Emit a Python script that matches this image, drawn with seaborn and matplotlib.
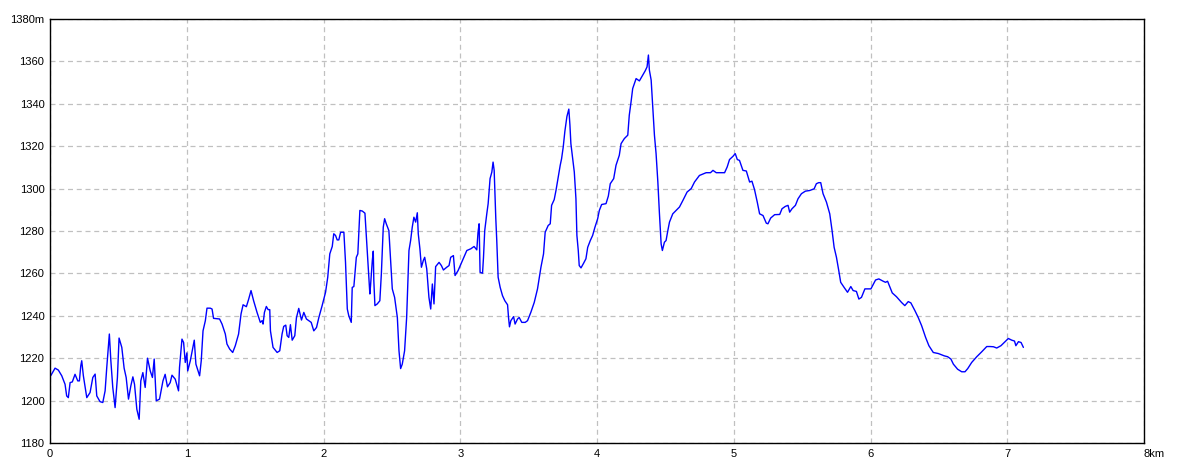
import matplotlib
matplotlib.use("Agg")
import matplotlib.pyplot as plt
import seaborn as sns
import pandas as pd

distance_km = [
    0.005, 0.037, 0.061, 0.086, 0.110, 0.122, 0.134, 0.147, 0.163, 0.183, 0.203, 0.215, 0.225, 0.232, 0.244,
    0.269, 0.293, 0.313, 0.330, 0.342, 0.366, 0.386, 0.403, 0.415, 0.434, 0.445, 0.459, 0.476, 0.493, 0.505,
    0.525, 0.542, 0.557, 0.574, 0.591, 0.606, 0.618, 0.635, 0.652, 0.664, 0.679, 0.696, 0.713, 0.733, 0.749,
    0.762, 0.777, 0.801, 0.826, 0.842, 0.859, 0.879, 0.892, 0.916, 0.940, 0.947, 0.965, 0.977, 0.989, 1.001,
    1.007, 1.026, 1.055, 1.067, 1.094, 1.106, 1.119, 1.136, 1.148, 1.172, 1.185, 1.196, 1.240, 1.258, 1.282,
    1.294, 1.314, 1.336, 1.355, 1.379, 1.397, 1.412, 1.436, 1.453, 1.470, 1.489, 1.514, 1.538, 1.551, 1.558,
    1.568, 1.582, 1.595, 1.607, 1.612, 1.631, 1.661, 1.680, 1.697, 1.709, 1.724, 1.734, 1.746, 1.758, 1.771,
    1.790, 1.802, 1.819, 1.839, 1.856, 1.875, 1.892, 1.910, 1.929, 1.949, 1.966, 1.990, 2.015, 2.031, 2.046,
    2.064, 2.075, 2.088, 2.100, 2.112, 2.125, 2.149, 2.161, 2.174, 2.185, 2.203, 2.210, 2.222, 2.240, 2.251,
    2.266, 2.284, 2.303, 2.320, 2.339, 2.344, 2.357, 2.364, 2.368, 2.376, 2.393, 2.412, 2.423, 2.437, 2.447,
    2.459, 2.478, 2.491, 2.503, 2.520, 2.540, 2.552, 2.564, 2.576, 2.593, 2.608, 2.625, 2.637, 2.649, 2.661,
    2.674, 2.686, 2.693, 2.705, 2.716, 2.730, 2.740, 2.755, 2.771, 2.784, 2.796, 2.808, 2.820, 2.845, 2.862,
    2.877, 2.901, 2.918, 2.930, 2.950, 2.962, 2.984, 3.016, 3.048, 3.077, 3.101, 3.121, 3.130, 3.138, 3.145,
    3.163, 3.170, 3.179, 3.194, 3.204, 3.211, 3.218, 3.231, 3.240, 3.248, 3.260, 3.267, 3.277, 3.292, 3.309,
    3.326, 3.346, 3.353, 3.360, 3.370, 3.390, 3.401, 3.419, 3.431, 3.450, 3.475, 3.492, 3.516, 3.541, 3.565,
    3.590, 3.609, 3.621, 3.643, 3.658, 3.668, 3.687, 3.700, 3.716, 3.731, 3.741, 3.753, 3.765, 3.780, 3.794,
    3.802, 3.809, 3.834, 3.846, 3.853, 3.863, 3.870, 3.883, 3.902, 3.919, 3.932, 3.951, 3.968, 3.985, 4.005,
    4.017, 4.034, 4.066, 4.083, 4.097, 4.122, 4.139, 4.163, 4.176, 4.200, 4.225, 4.236, 4.249, 4.261, 4.286,
    4.310, 4.334, 4.352, 4.366, 4.376, 4.383, 4.396, 4.408, 4.420, 4.432, 4.445, 4.456, 4.469, 4.478, 4.493,
    4.505, 4.518, 4.530, 4.554, 4.579, 4.603, 4.628, 4.659, 4.689, 4.713, 4.749, 4.798, 4.830, 4.848, 4.872,
    4.933, 4.952, 4.969, 4.994, 5.011, 5.026, 5.042, 5.067, 5.092, 5.116, 5.133, 5.152, 5.172, 5.189, 5.214,
    5.238, 5.250, 5.270, 5.299, 5.336, 5.353, 5.377, 5.397, 5.409, 5.426, 5.451, 5.470, 5.495, 5.524, 5.555,
    5.588, 5.604, 5.621, 5.636, 5.653, 5.678, 5.702, 5.719, 5.734, 5.751, 5.768, 5.782, 5.807, 5.832, 5.856,
    5.873, 5.897, 5.915, 5.934, 5.959, 6.003, 6.037, 6.061, 6.093, 6.110, 6.125, 6.159, 6.190, 6.227, 6.251,
    6.276, 6.295, 6.325, 6.349, 6.374, 6.403, 6.427, 6.459, 6.496, 6.540, 6.564, 6.588, 6.606, 6.637, 6.667,
    6.691, 6.711, 6.740, 6.777, 6.813, 6.850, 6.874, 6.899, 6.923, 6.954, 6.984, 7.008, 7.033, 7.053, 7.063,
    7.082, 7.101, 7.118,
]

elevation_m = [
    1211.7, 1215.3, 1214.4, 1211.7, 1207.7, 1202.2, 1201.4, 1208.5, 1208.8, 1212.4, 1209.3, 1209.3, 1216.4, 1218.8, 1211.7,
    1201.4, 1203.8, 1210.9, 1212.5, 1202.2, 1199.5, 1199.1, 1204.6, 1215.6, 1231.4, 1218.8, 1206.2, 1196.7, 1210.9, 1229.5,
    1225.1, 1215.3, 1210.9, 1200.7, 1206.9, 1211.2, 1207.7, 1195.9, 1191.2, 1209.3, 1213.2, 1206.2, 1220.0, 1214.0, 1210.9,
    1219.6, 1199.9, 1200.7, 1209.3, 1212.4, 1206.5, 1208.5, 1212.0, 1210.1, 1204.6, 1215.6, 1229.0, 1227.4, 1218.0, 1222.5,
    1214.0, 1218.8, 1228.5, 1217.2, 1211.7, 1218.8, 1232.9, 1237.7, 1243.6, 1243.6, 1243.2, 1238.8, 1238.5, 1236.1, 1231.4,
    1226.7, 1224.3, 1222.7, 1225.9, 1231.4, 1240.9, 1245.2, 1244.3, 1247.9, 1251.9, 1247.1, 1241.6, 1236.9, 1237.7, 1236.1,
    1241.6, 1244.4, 1242.9, 1242.9, 1232.9, 1225.1, 1222.7, 1223.5, 1231.4, 1235.0, 1235.6, 1230.6, 1229.8, 1235.8, 1228.5,
    1230.6, 1239.0, 1243.5, 1238.0, 1241.6, 1238.5, 1237.7, 1236.9, 1232.9, 1234.5, 1239.2, 1244.8, 1251.1, 1258.2, 1269.2,
    1272.7, 1278.7, 1277.9, 1275.8, 1275.8, 1279.4, 1279.4, 1265.2, 1243.2, 1240.0, 1236.9, 1253.4, 1253.8, 1267.6, 1269.2,
    1289.7, 1289.4, 1288.4, 1270.0, 1250.3, 1254.2, 1266.1, 1270.5, 1256.6, 1244.8, 1245.6, 1247.1, 1259.7, 1281.8, 1285.8,
    1283.4, 1280.2, 1266.1, 1252.7, 1248.7, 1239.2, 1223.5, 1215.1, 1217.2, 1223.5, 1239.2, 1270.8, 1275.5, 1281.8, 1286.5,
    1284.2, 1288.6, 1278.7, 1271.6, 1262.9, 1266.1, 1267.6, 1262.1, 1248.7, 1243.2, 1255.0, 1245.6, 1263.2, 1265.2, 1263.7,
    1261.6, 1262.9, 1263.7, 1267.6, 1268.4, 1259.0, 1261.3, 1266.1, 1270.8, 1271.6, 1272.7, 1271.1, 1279.4, 1283.4, 1260.5,
    1260.1, 1267.6, 1280.2, 1288.1, 1292.9, 1299.1, 1304.7, 1307.8, 1312.5, 1308.6, 1285.8, 1275.5, 1258.2, 1253.4, 1249.5,
    1247.1, 1245.2, 1239.2, 1234.8, 1237.7, 1239.6, 1236.1, 1238.5, 1239.2, 1236.9, 1236.9, 1237.7, 1241.6, 1246.3, 1252.7,
    1262.9, 1269.2, 1279.4, 1282.6, 1283.4, 1292.1, 1294.8, 1299.1, 1305.4, 1311.0, 1314.1, 1319.6, 1327.0, 1334.0, 1337.5,
    1330.0, 1321.2, 1307.8, 1295.2, 1277.9, 1270.8, 1263.7, 1262.6, 1264.8, 1266.9, 1272.3, 1275.5, 1277.9, 1281.8, 1285.8,
    1289.7, 1292.5, 1292.9, 1296.5, 1302.3, 1304.7, 1311.0, 1315.7, 1321.2, 1323.6, 1325.2, 1334.6, 1340.9, 1347.2, 1351.9,
    1350.8, 1353.5, 1355.5, 1357.4, 1363.0, 1355.9, 1351.2, 1337.8, 1325.2, 1316.5, 1303.1, 1288.9, 1273.9, 1270.8, 1274.7,
    1275.5, 1280.2, 1284.2, 1288.1, 1289.7, 1291.3, 1294.4, 1298.4, 1300.0, 1303.1, 1306.2, 1307.5, 1307.5, 1308.6, 1307.5,
    1307.5, 1310.2, 1313.7, 1315.2, 1316.5, 1313.7, 1313.3, 1308.6, 1308.3, 1303.1, 1303.5, 1299.5, 1293.6, 1288.1, 1287.3,
    1283.7, 1283.4, 1286.1, 1287.7, 1287.8, 1290.5, 1291.6, 1292.1, 1288.9, 1290.5, 1292.1, 1295.2, 1297.6, 1298.8, 1299.1,
    1299.9, 1302.3, 1302.8, 1302.8, 1297.6, 1293.6, 1288.1, 1280.2, 1272.3, 1267.6, 1261.3, 1255.8, 1253.4, 1251.1, 1253.8,
    1251.9, 1251.5, 1247.9, 1248.7, 1252.7, 1252.7, 1256.9, 1257.4, 1256.3, 1255.8, 1256.3, 1250.8, 1249.0, 1246.3, 1244.8,
    1246.7, 1246.1, 1242.4, 1239.2, 1235.3, 1229.8, 1225.9, 1222.7, 1222.2, 1221.1, 1220.7, 1219.6, 1217.2, 1214.8, 1213.6,
    1213.6, 1215.1, 1218.0, 1220.7, 1223.0, 1225.5, 1225.5, 1225.4, 1224.8, 1225.9, 1227.8, 1229.3, 1228.5, 1228.1, 1225.9,
    1227.8, 1227.4, 1225.1,
]

x_ticks = [0, 1, 2, 3, 4, 5, 6, 7, 8]
x_tick_labels = ["0", "1", "2", "3", "4", "5", "6", "7", "8km"]
y_ticks = [1180, 1200, 1220, 1240, 1260, 1280, 1300, 1320, 1340, 1360, 1380]
y_tick_labels = ["1180", "1200", "1220", "1240", "1260", "1280", "1300", "1320", "1340", "1360", "1380m"]

sns.set_style("white")
plt.rcParams["font.family"] = ["Liberation Sans", "DejaVu Sans"]

df = pd.DataFrame({"distance": distance_km, "elevation": elevation_m})

fig = plt.figure(figsize=(11.84, 4.73), dpi=100)
ax = fig.add_axes([50 / 1184, 1 - 443 / 473, 1094 / 1184, 424 / 473])

sns.lineplot(data=df, x="distance", y="elevation", ax=ax, color="#0000ff",
             linewidth=1.0, estimator=None, sort=False)

ax.set_xlim(0, 8)
ax.set_ylim(1180, 1380)
ax.set_xticks(x_ticks)
ax.set_xticklabels(x_tick_labels)
ax.set_yticks(y_ticks)
ax.set_yticklabels(y_tick_labels)
ax.set_xlabel("")
ax.set_ylabel("")

ax.tick_params(axis="both", length=0, labelsize=8, colors="black")
ax.tick_params(axis="x", pad=4)
ax.tick_params(axis="y", pad=4)
last = ax.get_xticklabels()[-1]
last.set_horizontalalignment("left")

ax.grid(True, color="#c0c0c0", linestyle=(0, (4, 3)), linewidth=0.9)
ax.set_axisbelow(True)
for s in ax.spines.values():
    s.set_visible(True)
    s.set_color("black")
    s.set_linewidth(1.0)

fig.savefig("out.png", dpi=100, facecolor="white")
